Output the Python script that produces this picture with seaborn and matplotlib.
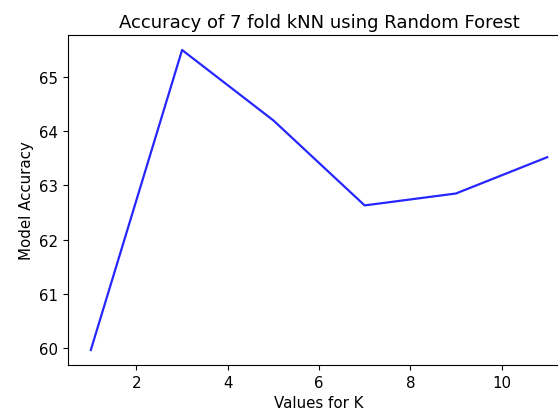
import matplotlib
matplotlib.use("Agg")
import matplotlib.pyplot as plt
import seaborn as sns
import pandas as pd

k_values = [1, 3, 5, 7, 9, 11]
accuracy = [59.96, 65.50, 64.20, 62.63, 62.85, 63.52]

df = pd.DataFrame({"k": k_values, "acc": accuracy})

plt.rcParams["font.size"] = 10.8
fig = plt.figure(figsize=(5.58, 4.14), dpi=100)
ax = fig.add_axes([68/558, (414-366)/414, (570-68)/558, (366-36)/414])
sns.lineplot(data=df, x="k", y="acc", color="blue", ax=ax, linewidth=1.6, alpha=0.85)
ax.set_title("Accuracy of 7 fold kNN using Random Forest", fontsize=13)
ax.set_xlabel("Values for K", fontsize=10.8)
ax.set_ylabel("Model Accuracy", fontsize=10.8)
ax.tick_params(labelsize=10.8)
ax.set_xticks([2, 4, 6, 8, 10])
fig.savefig("out.png", dpi=100)
